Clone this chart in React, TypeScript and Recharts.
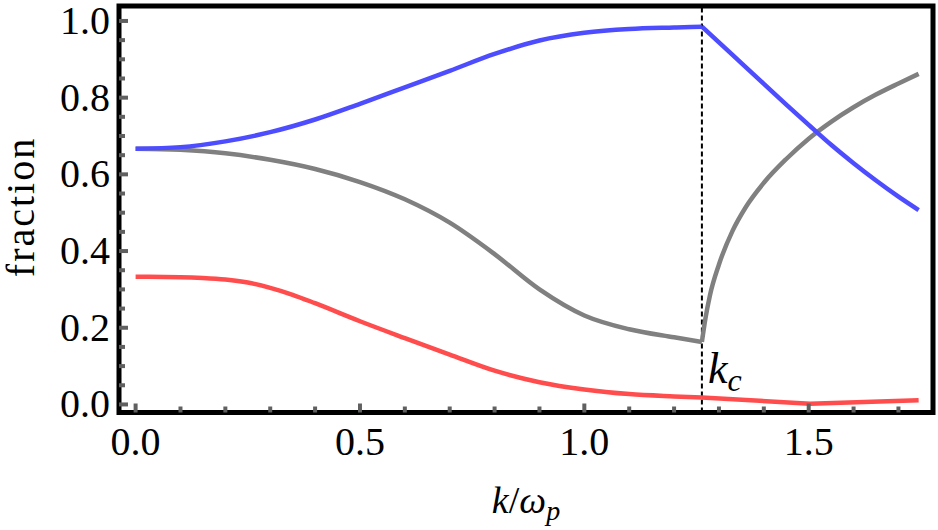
import React from 'react';
import { LineChart, Line, XAxis, YAxis, ReferenceLine, ReferenceArea } from 'recharts';

// critical wavenumber (dashed line)
const K_C = 1.262;

const X_MIN = -0.037;
const X_MAX = 1.777;
const Y_MIN = -0.021;
const Y_MAX = 1.039;

const xTicks = [0, 0.1, 0.2, 0.3, 0.4, 0.5, 0.6, 0.7, 0.8, 0.9, 1.0, 1.1, 1.2, 1.3, 1.4, 1.5, 1.6, 1.7];
const xMajor = [0, 0.5, 1.0, 1.5];
const yTicks = [0, 0.05, 0.1, 0.15, 0.2, 0.25, 0.3, 0.35, 0.4, 0.45, 0.5, 0.55, 0.6, 0.65, 0.7, 0.75, 0.8, 0.85, 0.9, 0.95, 1.0];
const yMajor = [0, 0.2, 0.4, 0.6, 0.8, 1.0];

const blueBefore = [
  { k: 0.0, v: 0.667 }, { k: 0.1, v: 0.671 }, { k: 0.2, v: 0.686 }, { k: 0.3, v: 0.71 },
  { k: 0.4, v: 0.743 }, { k: 0.5, v: 0.784 }, { k: 0.6, v: 0.827 }, { k: 0.7, v: 0.87 },
  { k: 0.8, v: 0.914 }, { k: 0.9, v: 0.949 }, { k: 1.0, v: 0.969 }, { k: 1.1, v: 0.979 },
  { k: 1.2, v: 0.983 }, { k: 1.262, v: 0.985 },
];
const blueAfter = [
  { k: 1.262, v: 0.985 }, { k: 1.3, v: 0.944 }, { k: 1.35, v: 0.89 }, { k: 1.4, v: 0.836 },
  { k: 1.45, v: 0.782 }, { k: 1.5, v: 0.729 }, { k: 1.55, v: 0.677 }, { k: 1.6, v: 0.629 },
  { k: 1.65, v: 0.584 }, { k: 1.7, v: 0.542 }, { k: 1.745, v: 0.507 },
];

const grayBefore = [
  { k: 0.0, v: 0.667 }, { k: 0.1, v: 0.664 }, { k: 0.2, v: 0.655 }, { k: 0.3, v: 0.638 },
  { k: 0.4, v: 0.614 }, { k: 0.5, v: 0.58 }, { k: 0.6, v: 0.535 }, { k: 0.7, v: 0.474 },
  { k: 0.8, v: 0.392 }, { k: 0.9, v: 0.3 }, { k: 1.0, v: 0.232 }, { k: 1.1, v: 0.196 },
  { k: 1.2, v: 0.175 }, { k: 1.262, v: 0.163 },
];
const grayAfter = [
  { k: 1.262, v: 0.163 }, { k: 1.27, v: 0.225 }, { k: 1.28, v: 0.285 }, { k: 1.3, v: 0.365 },
  { k: 1.33, v: 0.452 }, { k: 1.36, v: 0.515 }, { k: 1.4, v: 0.578 }, { k: 1.45, v: 0.64 },
  { k: 1.5, v: 0.693 }, { k: 1.55, v: 0.737 }, { k: 1.6, v: 0.775 }, { k: 1.65, v: 0.808 },
  { k: 1.7, v: 0.837 }, { k: 1.745, v: 0.862 },
];

const redBefore = [
  { k: 0.0, v: 0.333 }, { k: 0.1, v: 0.332 }, { k: 0.15, v: 0.33 }, { k: 0.2, v: 0.326 },
  { k: 0.25, v: 0.318 }, { k: 0.3, v: 0.304 }, { k: 0.35, v: 0.286 }, { k: 0.4, v: 0.264 },
  { k: 0.5, v: 0.217 }, { k: 0.6, v: 0.173 }, { k: 0.7, v: 0.13 }, { k: 0.8, v: 0.088 },
  { k: 0.9, v: 0.058 }, { k: 1.0, v: 0.039 }, { k: 1.1, v: 0.027 }, { k: 1.2, v: 0.021 },
  { k: 1.262, v: 0.018 },
];
const redAfter = [
  { k: 1.262, v: 0.018 }, { k: 1.503, v: 0.002 }, { k: 1.745, v: 0.011 },
];

const FONT = "'Liberation Serif', 'Times New Roman', serif";
const BLUE = '#4d4dff';
const RED = '#ff4d4d';
const GRAY = '#808080';
const TICK = '#606060';
const LINE_W = 4.5;

const makeTick = (side: string, majors: number[], showLabel: boolean) => (props: any) => {
  const { x, y, payload } = props;
  const v = payload.value;
  const major = majors.some((m) => Math.abs(m - v) < 1e-6);
  const len = major ? 9 : 6;
  let x2 = x;
  let y2 = y;
  if (side === 'bottom') y2 = y - len;
  if (side === 'top') y2 = y + len;
  if (side === 'left') x2 = x + len;
  if (side === 'right') x2 = x - len;
  return (
    <g>
      <line x1={x} y1={y} x2={x2} y2={y2} stroke={TICK} strokeWidth={4} />
      {showLabel && major && side === 'bottom' && (
        <text x={x} y={y + 42.5} textAnchor="middle" fontFamily={FONT} fontSize={40} fill="#000">
          {v.toFixed(1)}
        </text>
      )}
      {showLabel && major && side === 'left' && (
        <text x={x - 9} y={y + 13} textAnchor="end" fontFamily={FONT} fontSize={40} fill="#000">
          {v.toFixed(1)}
        </text>
      )}
    </g>
  );
};

const XLabel = (props: any) => {
  const vb = props.viewBox || { x: 119, y: 412.5, width: 814 };
  return (
    <text x={vb.x + vb.width / 2} y={vb.y + 100} textAnchor="middle" fontFamily={FONT} fontSize={38} fill="#000">
      <tspan fontStyle="italic">k</tspan>
      <tspan>/</tspan>
      <tspan fontStyle="italic">ω</tspan>
      <tspan fontStyle="italic" fontSize={28} dy={7}>p</tspan>
    </text>
  );
};

const YLabel = () => (
  <text x={34} y={207} transform="rotate(-90 34 207)" textAnchor="middle" fontFamily={FONT} fontSize={40} fill="#000" letterSpacing={2}>
    fraction
  </text>
);

const KcLabel = (props: any) => {
  const vb = props.viewBox || { x: 702, y: 6, height: 406 };
  return (
    <text x={vb.x + 6} y={vb.y + vb.height - 30} fontFamily={FONT} fontSize={44} fill="#000">
      <tspan fontStyle="italic">k</tspan>
      <tspan fontStyle="italic" fontSize={32} dy={8}>c</tspan>
    </text>
  );
};

export default function App() {
  return (
    <div style={{ position: 'absolute', left: 0, top: 0, background: '#fff' }}>
      <LineChart width={938} height={530} margin={{ top: 6, right: 5, bottom: 0, left: 0 }}>
        <XAxis
          xAxisId={0}
          dataKey="k"
          type="number"
          domain={[X_MIN, X_MAX]}
          allowDataOverflow
          ticks={xTicks}
          interval={0}
          height={117.5}
          tickSize={0}
          tickMargin={0}
          axisLine={false}
          tickLine={false}
          tick={makeTick('bottom', xMajor, true)}
          label={{ content: XLabel }}
        />
        <XAxis
          xAxisId="top"
          orientation="top"
          dataKey="k"
          type="number"
          domain={[X_MIN, X_MAX]}
          allowDataOverflow
          ticks={xTicks}
          interval={0}
          height={0}
          tickSize={0}
          tickMargin={0}
          axisLine={false}
          tickLine={false}
          tick={makeTick('top', xMajor, false)}
        />
        <YAxis
          yAxisId={0}
          type="number"
          domain={[Y_MIN, Y_MAX]}
          allowDataOverflow
          ticks={yTicks}
          interval={0}
          width={119}
          tickSize={0}
          tickMargin={0}
          axisLine={false}
          tickLine={false}
          tick={makeTick('left', yMajor, true)}
          label={{ content: YLabel }}
        />
        <YAxis
          yAxisId="right"
          orientation="right"
          type="number"
          domain={[Y_MIN, Y_MAX]}
          allowDataOverflow
          ticks={yTicks}
          interval={0}
          width={0}
          tickSize={0}
          tickMargin={0}
          axisLine={false}
          tickLine={false}
          tick={makeTick('right', yMajor, false)}
        />
        <ReferenceLine
          x={K_C}
          stroke="#000"
          strokeWidth={2}
          strokeDasharray="5 3"
          label={{ content: KcLabel }}
        />
        <Line data={redBefore} dataKey="v" type="monotone" stroke={RED} strokeWidth={LINE_W} dot={false} isAnimationActive={false} />
        <Line data={redAfter} dataKey="v" type="linear" stroke={RED} strokeWidth={LINE_W} dot={false} isAnimationActive={false} />
        <Line data={grayBefore} dataKey="v" type="monotone" stroke={GRAY} strokeWidth={LINE_W} dot={false} isAnimationActive={false} />
        <Line data={grayAfter} dataKey="v" type="monotone" stroke={GRAY} strokeWidth={LINE_W} dot={false} isAnimationActive={false} />
        <Line data={blueBefore} dataKey="v" type="monotone" stroke={BLUE} strokeWidth={LINE_W} dot={false} isAnimationActive={false} />
        <Line data={blueAfter} dataKey="v" type="monotone" stroke={BLUE} strokeWidth={LINE_W} dot={false} isAnimationActive={false} />
        <ReferenceArea x1={X_MIN} x2={X_MAX} y1={Y_MIN} y2={Y_MAX} fill="none" stroke="#000" strokeWidth={5} ifOverflow="visible" />
      </LineChart>
    </div>
  );
}
